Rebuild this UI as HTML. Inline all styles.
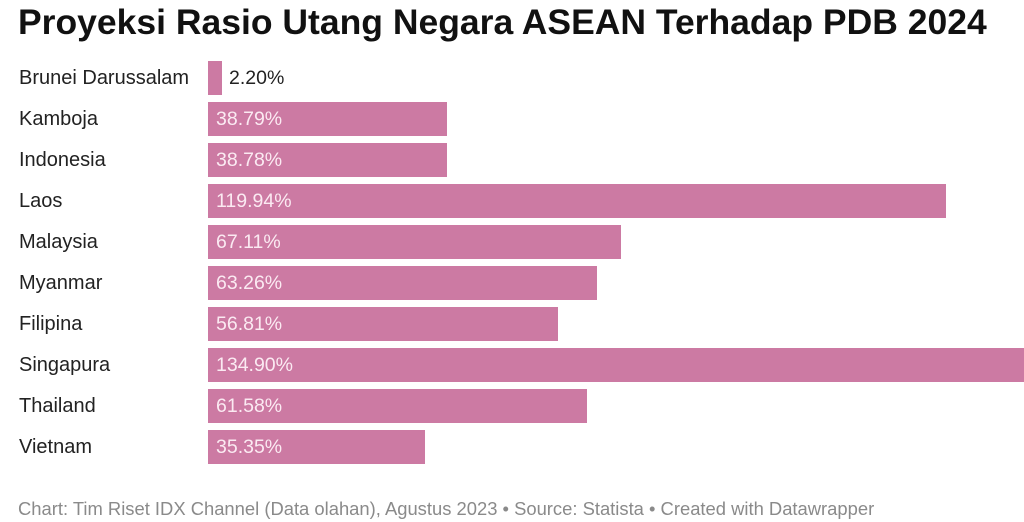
<!DOCTYPE html>
<html><head><meta charset="utf-8"><style>
body{margin:0;width:1024px;height:522px;background:#fff;overflow:hidden;font-family:"Liberation Sans",sans-serif;position:relative}
.t{position:absolute;left:18px;top:2px;font-size:35.5px;font-weight:bold;color:#111;letter-spacing:0px;white-space:nowrap}
.l{position:absolute;left:19px;font-size:20px;color:#222;line-height:34px;white-space:nowrap}
.b{position:absolute;left:208px;height:34px;background:#cc7aa3}
.v{position:absolute;left:216px;font-size:19.5px;color:#fbeaf2;line-height:34px;white-space:nowrap}
.f{position:absolute;left:18px;top:498px;font-size:18.4px;color:#8a8a8a;white-space:nowrap}
</style></head><body>
<div class="t">Proyeksi Rasio Utang Negara ASEAN Terhadap PDB 2024</div>

<div class="l" style="top:61px">Brunei Darussalam</div><div class="b" style="top:61px;width:14px"></div><div class="v" style="top:61px;left:229px;color:#222">2.20%</div>
<div class="l" style="top:102px">Kamboja</div><div class="b" style="top:102px;width:239px"></div><div class="v" style="top:102px">38.79%</div>
<div class="l" style="top:143px">Indonesia</div><div class="b" style="top:143px;width:239px"></div><div class="v" style="top:143px">38.78%</div>
<div class="l" style="top:184px">Laos</div><div class="b" style="top:184px;width:738px"></div><div class="v" style="top:184px">119.94%</div>
<div class="l" style="top:225px">Malaysia</div><div class="b" style="top:225px;width:413px"></div><div class="v" style="top:225px">67.11%</div>
<div class="l" style="top:266px">Myanmar</div><div class="b" style="top:266px;width:389px"></div><div class="v" style="top:266px">63.26%</div>
<div class="l" style="top:307px">Filipina</div><div class="b" style="top:307px;width:350px"></div><div class="v" style="top:307px">56.81%</div>
<div class="l" style="top:348px">Singapura</div><div class="b" style="top:348px;width:816px"></div><div class="v" style="top:348px">134.90%</div>
<div class="l" style="top:389px">Thailand</div><div class="b" style="top:389px;width:379px"></div><div class="v" style="top:389px">61.58%</div>
<div class="l" style="top:430px">Vietnam</div><div class="b" style="top:430px;width:217px"></div><div class="v" style="top:430px">35.35%</div>

<div class="f">Chart: Tim Riset IDX Channel (Data olahan), Agustus 2023 • Source: Statista • Created with Datawrapper</div>
</body></html>
